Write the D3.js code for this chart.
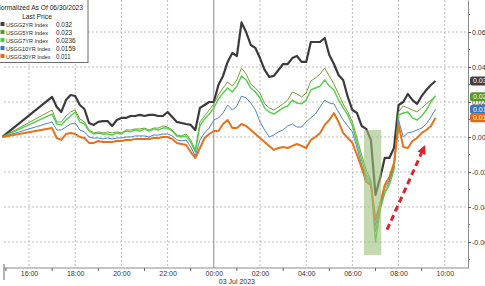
<!DOCTYPE html>
<html><head><meta charset="utf-8">
<script src="https://cdn.jsdelivr.net/npm/d3@7"></script>
<style>html,body{margin:0;padding:0;background:#fff;overflow:hidden}svg{display:block;font-family:"Liberation Sans",Arial,sans-serif}</style>
</head><body><svg id="c" width="485" height="286"></svg>
<script>
// ---------- data ----------
const times = ["14:51",
"17:00","17:12","17:24","17:36","17:48","18:00","18:12","18:24","18:36","18:48",
"19:00","19:12","19:24","19:36","19:48","20:00","20:12","20:24","20:36","20:48",
"21:00","21:12","21:24","21:36","21:48","22:00","22:12","22:24","22:36","22:48",
"23:00","23:12","23:24","23:36","23:48","00:00","00:12","00:24","00:36","00:48",
"01:00","01:12","01:24","01:36","01:48","02:00","02:12","02:24","02:36","02:48",
"03:00","03:12","03:24","03:36","03:48","04:00","04:12","04:24","04:36","04:48",
"05:00","05:12","05:24","05:36","05:48","06:00","06:12","06:24","06:36","06:48",
"07:00","07:12","07:24","07:36","07:48","08:00","08:12","08:24","08:36","08:48",
"09:00","09:12","09:24","09:36"];

const usgg2yr = [0,
.0229,.0171,.0143,.0211,.0240,.0234,.0183,.0160,.0080,.0069,
.0086,.0091,.0091,.0063,.0097,.0109,.0109,.0120,.0120,.0126,
.0120,.0126,.0126,.0120,.0120,.0143,.0114,.0086,.0080,.0074,
.0069,.0040,.0166,.0183,.0200,.0200,.0297,.0349,.0429,.0480,
.0463,.0655,.0600,.0526,.0509,.0451,.0383,.0343,.0349,.0383,
.0417,.0417,.0451,.0463,.0429,.0429,.0543,.0543,.0543,.0566,
.0469,.0417,.0354,.0326,.0229,.0154,.0137,.0063,.0046,-.0017,
-.0331,-.0234,-.0120,-.0120,-.0063,.0183,.0200,.0246,.0211,.0189,
.0234,.0269,.0297,.0320];

const usgg5yr = [0,
.0154,.0086,.0086,.0120,.0143,.0154,.0103,.0086,.0040,.0023,
.0029,.0023,.0029,.0023,.0029,.0023,.0040,.0040,.0046,.0046,
.0051,.0040,.0051,.0051,.0063,.0057,.0040,.0011,.0006,.0017,
-.0017,-.0074,.0086,.0120,.0154,.0189,.0240,.0280,.0314,.0291,
.0326,.0394,.0360,.0303,.0280,.0251,.0189,.0166,.0154,.0171,
.0189,.0211,.0257,.0246,.0229,.0251,.0320,.0337,.0360,.0394,
.0349,.0303,.0246,.0189,.0143,.0086,-.0006,-.0103,-.0189,-.0246,
-.0543,-.0406,-.0314,-.0257,-.0177,.0143,.0177,.0166,.0154,.0143,
.0166,.0189,.0211,.0230];

const usgg7yr = [0,
.0131,.0074,.0069,.0097,.0120,.0143,.0086,.0074,.0034,.0017,
.0023,.0017,.0017,.0011,.0023,.0017,.0034,.0029,.0040,.0034,
.0046,.0034,.0046,.0040,.0051,.0051,.0034,.0006,.0000,.0006,
-.0029,-.0086,.0063,.0103,.0131,.0166,.0217,.0251,.0280,.0257,
.0291,.0349,.0326,.0280,.0257,.0223,.0166,.0143,.0131,.0149,
.0166,.0177,.0211,.0194,.0189,.0211,.0269,.0280,.0291,.0326,
.0291,.0269,.0211,.0166,.0126,.0063,-.0034,-.0131,-.0217,-.0257,
-.0600,-.0417,-.0320,-.0274,-.0189,.0126,.0137,.0143,.0109,.0097,
.0120,.0154,.0200,.0236];

const usgg10yr = [0,
.0086,.0040,.0040,.0057,.0074,.0080,.0040,.0029,.0000,-.0006,
-.0006,-.0011,-.0006,-.0011,-.0006,-.0006,.0000,.0000,.0006,.0006,
.0006,.0000,.0011,.0011,.0017,.0017,.0006,-.0017,-.0023,-.0017,
-.0057,-.0109,-.0017,.0023,.0051,.0097,.0109,.0137,.0183,.0154,
.0177,.0234,.0223,.0194,.0154,.0086,.0040,.0000,.0011,.0029,
.0040,.0063,.0074,.0057,.0057,.0086,.0109,.0131,.0171,.0211,
.0194,.0189,.0143,.0097,.0063,.0029,-.0063,-.0160,-.0234,-.0269,
-.0509,-.0394,-.0291,-.0246,-.0160,.0097,.0000,.0023,.0029,.0040,
.0051,.0074,.0114,.0159];

const usgg30yr = [0,
.0051,-.0006,-.0017,.0017,.0023,.0017,.0000,-.0006,-.0034,-.0034,
-.0023,-.0029,-.0029,-.0029,-.0023,-.0023,-.0017,-.0017,-.0011,-.0011,
-.0011,-.0011,-.0006,-.0006,.0000,.0000,-.0011,-.0034,-.0040,-.0046,
-.0086,-.0120,-.0063,-.0006,.0017,.0034,.0034,.0074,.0097,.0051,
.0051,.0074,.0063,.0040,.0017,-.0006,-.0029,-.0051,-.0074,-.0063,
-.0057,-.0063,-.0051,-.0040,-.0051,-.0063,-.0017,.0000,.0023,.0069,
.0097,.0137,.0086,.0023,-.0006,-.0034,-.0103,-.0177,-.0257,-.0274,
-.0474,-.0383,-.0274,-.0229,-.0149,.0069,-.0057,-.0063,-.0023,-.0006,
.0023,.0040,.0063,.0110];

const seriesNames = ["USGG2YR Index","USGG5YR Index","USGG7YR Index","USGG10YR Index","USGG30YR Index"];
const lastPrices = ["0.032","0.023","0.0236","0.0159","0.011"];
const legendTitle = "Normalized As Of 06/30/2023";
const legendSub = "Last Price";
const yTicks = [-0.06,-0.04,-0.02,0,0.02,0.04,0.06];
const yMinorTicks = [-0.07,-0.05,-0.03,-0.01,0.01,0.03,0.05,0.07];
const xTickLabels = ["16:00","18:00","20:00","22:00","00:00","02:00","04:00","06:00","08:00","10:00"];
const dateLabel = "03 Jul 2023";
// annotations (in data units)
const highlight = {from:"06:30", to:"07:15", top:0.004, bottom:-0.0675};
const arrow = {from:["07:30",-0.053], to:["09:09",-0.0046]};

// ---------- styles ----------
const colors = ["#3b3b3b","#7e9b3a","#4fd046","#4f85c2","#e8721c"];
const widths = [2.2,1,1.4,1,2];
const badgeColors = ["#3f3f3f","#559a27","#3fcf3f","#3a76bd","#e36a14"];
const nameWidths = [42,42,42,44.5,44.5];
const valueWidths = [16,16,19.5,19.5,14.5];

const parseT = s => { const [h,m] = s.split(":").map(Number); return new Date(2023,6,h<12?3:2,h,m); };
const dates = times.map(parseT);
const allSeries = [usgg2yr,usgg5yr,usgg7yr,usgg10yr,usgg30yr];

const svg = d3.select("#c");
const P = {left:4, right:468, top:0, bottom:268};
const x = d3.scaleTime().domain([new Date(2023,6,2,16,0), new Date(2023,6,3,10,0)]).range([29,444.8]);
const y = d3.scaleLinear().domain([-0.0749,0.0783]).range([P.bottom,P.top]);

svg.append("rect").attr("width",485).attr("height",286).attr("fill","#fff");

// grid
const grid = svg.append("g");
grid.selectAll("line.h").data(yTicks).join("line").attr("class","h")
  .attr("x1",P.left).attr("x2",P.right).attr("y1",d=>y(d)).attr("y2",d=>y(d))
  .attr("stroke","#bdbdbd").attr("stroke-width",1).attr("stroke-dasharray","2,2");
const xTickDates = xTickLabels.map(parseT);
grid.selectAll("line.v").data(xTickDates).join("line").attr("class","v")
  .attr("x1",d=>x(d)).attr("x2",d=>x(d)).attr("y1",P.top).attr("y2",P.bottom)
  .attr("stroke",d=>d.getHours()===0?"#8c8c8c":"#bdbdbd")
  .attr("stroke-dasharray",d=>d.getHours()===0?null:"2,2");

// lines
const line = d3.line().x((d,i)=>x(dates[i])).y(d=>y(d));
allSeries.forEach((s,i)=>{
  svg.append("path").datum(s).attr("d",line).attr("fill","none")
    .attr("stroke",colors[i]).attr("stroke-width",widths[i]).attr("stroke-linejoin","round");
});

// highlight box
svg.append("rect")
  .attr("x",x(parseT(highlight.from))).attr("y",y(highlight.top))
  .attr("width",x(parseT(highlight.to))-x(parseT(highlight.from)))
  .attr("height",y(highlight.bottom)-y(highlight.top))
  .attr("fill","#9cc07c").attr("opacity",0.6);

// arrow
{
  const x0=x(parseT(arrow.from[0])), y0=y(arrow.from[1]);
  const x1=x(parseT(arrow.to[0])), y1=y(arrow.to[1]);
  const dx=x1-x0, dy=y1-y0, L=Math.hypot(dx,dy), ux=dx/L, uy=dy/L;
  const hl=9, hw=4.5;
  const bx=x1-ux*hl, by=y1-uy*hl;
  svg.append("line").attr("x1",x0).attr("y1",y0).attr("x2",bx).attr("y2",by)
    .attr("stroke","#d9232e").attr("stroke-width",3).attr("stroke-dasharray","6,4");
  svg.append("path").attr("d",`M${x1},${y1}L${bx-uy*hw},${by+ux*hw}L${bx+uy*hw},${by-ux*hw}Z`).attr("fill","#d9232e");
}

// axes
const axisColor = "#8a8a8a";
const yAxis = svg.append("g").attr("transform",`translate(${P.right},0)`)
  .call(d3.axisRight(y).tickValues(yTicks).tickFormat(d=>d.toFixed(2)).tickSize(3).tickSizeOuter(0).tickPadding(1));
yAxis.select(".domain").attr("stroke",axisColor);
yAxis.selectAll(".tick line").attr("stroke","#555");
yAxis.selectAll("text").attr("font-size",7).attr("fill","#333").attr("font-family","Liberation Sans, Arial, sans-serif");
svg.append("g").selectAll("line").data(yMinorTicks).join("line")
  .attr("x1",P.right).attr("x2",P.right+2).attr("y1",d=>y(d)).attr("y2",d=>y(d)).attr("stroke","#777");

const xAxis = svg.append("g").attr("transform",`translate(0,${P.bottom})`)
  .call(d3.axisBottom(x).tickValues(xTickDates).tickFormat(d3.timeFormat("%H:%M")).tickSize(0).tickSizeOuter(0).tickPadding(3));
xAxis.select(".domain").remove();
xAxis.selectAll("text").attr("font-size",7).attr("fill","#333").attr("font-family","Liberation Sans, Arial, sans-serif");
svg.append("line").attr("x1",P.left).attr("x2",P.right).attr("y1",P.bottom).attr("y2",P.bottom).attr("stroke",axisColor);
const hours = d3.timeHour.range(new Date(2023,6,2,15,0), new Date(2023,6,3,11,0)).filter(d=>d.getHours()%2===1);
svg.append("g").selectAll("line").data(hours).join("line")
  .attr("x1",d=>x(d)).attr("x2",d=>x(d)).attr("y1",P.bottom).attr("y2",P.bottom+3).attr("stroke","#666");
svg.append("line").attr("x1",P.left).attr("x2",P.left).attr("y1",P.bottom-4).attr("y2",P.bottom+12).attr("stroke","#666");
svg.append("text").attr("x",x(parseT("00:00"))+5).attr("y",284).attr("font-size",7).attr("fill","#333").text(dateLabel);

// badges (the 7YR badge sits hidden under the 5YR one in the reference)
[1,0,3,4].forEach(i=>{
  const v = allSeries[i][allSeries[i].length-1];
  const g = svg.append("g");
  g.append("rect").attr("x",P.right+2).attr("y",y(v)-4.5).attr("width",24).attr("height",9).attr("rx",2.5).attr("fill",badgeColors[i]);
  g.append("text").attr("x",P.right+5).attr("y",y(v)+2.5).attr("font-size",7).attr("fill","#fff").text(lastPrices[i]);
});

// legend
const lg = svg.append("g").attr("font-size",6.7).attr("fill","#222");
lg.append("rect").attr("x",-5).attr("y",-2).attr("width",93).attr("height",64.5).attr("fill","#fff").attr("stroke","#6a6a6a");
lg.append("text").attr("x",-4).attr("y",10).attr("textLength",87).attr("lengthAdjust","spacingAndGlyphs").text(legendTitle);
lg.append("text").attr("x",37).attr("y",18.5).attr("text-anchor","middle").text(legendSub);
seriesNames.forEach((n,i)=>{
  const yy = 27 + i*8;
  lg.append("rect").attr("x",0.5).attr("y",yy-5).attr("width",4).attr("height",4).attr("fill",badgeColors[i]);
  lg.append("text").attr("x",6).attr("y",yy).attr("font-size",6.2).attr("textLength",nameWidths[i]).attr("lengthAdjust","spacingAndGlyphs").text(n);
  lg.append("text").attr("x",56).attr("y",yy).attr("font-size",6.4).attr("textLength",valueWidths[i]).attr("lengthAdjust","spacingAndGlyphs").text(lastPrices[i]);
});
</script></body></html>
